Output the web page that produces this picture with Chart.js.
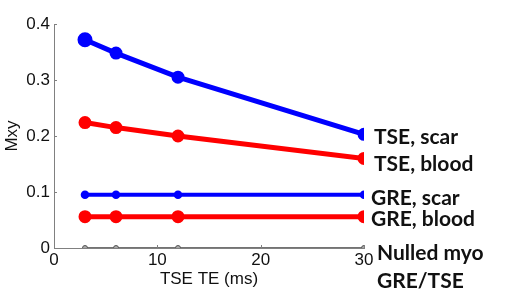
<!DOCTYPE html>
<html>
<head>
<meta charset="utf-8">
<script src="https://cdn.jsdelivr.net/npm/chart.js@4/dist/chart.umd.min.js"></script>
<style>
  html, body { margin: 0; padding: 0; background: #fff; }
  #wrap { width: 509px; height: 308px; }
</style>
</head>
<body>
<div id="wrap"><canvas id="chart" width="509" height="308"></canvas></div>
<script>
// TSE echo times (ms)
var teValues = [3, 6, 12, 30];

var tseScar = [0.372, 0.348, 0.305, 0.203];
var tseBlood = [0.224, 0.215, 0.200, 0.160];
var greScar = [0.095, 0.095, 0.095, 0.095];
var greBlood = [0.056, 0.056, 0.056, 0.056];
var nulledMyo = [0, 0, 0, 0];

var seriesNames = ["TSE, scar", "TSE, blood", "GRE, scar", "GRE, blood", ["Nulled myo", "GRE/TSE"]];

var xTicks = [0, 10, 20, 30];
var yTicks = [0, 0.1, 0.2, 0.3, 0.4];

// label offsets next to the end of each line (px)
var labelNudge = [[10, 3], [10, 6], [7, 3], [7, 3], [13, 5]];

function toPoints(values) {
  return teValues.map(function (t, i) { return { x: t, y: values[i] }; });
}

var endLabels = {
  id: "endLabels",
  afterDatasetsDraw: function (chart) {
    var ctx = chart.ctx;
    var yScale = chart.scales.y;
    var xScale = chart.scales.x;
    ctx.save();
    ctx.fillStyle = "#111";
    ctx.font = "bold 21px Lato";
    ctx.textBaseline = "middle";
    ctx.textAlign = "left";
    chart.data.datasets.forEach(function (ds, i) {
      var last = ds.data[ds.data.length - 1];
      var px = xScale.getPixelForValue(last.x) + labelNudge[i][0];
      var py = yScale.getPixelForValue(last.y) + labelNudge[i][1];
      var name = seriesNames[i];
      if (Array.isArray(name)) {
        name.forEach(function (line, k) { ctx.fillText(line, px, py + k * 28); });
      } else {
        ctx.fillText(name, px, py);
      }
    });
    ctx.restore();
  }
};

// MATLAB style ticks pointing inwards
var innerTicks = {
  id: "innerTicks",
  afterDraw: function (chart) {
    var ctx = chart.ctx;
    var area = chart.chartArea;
    ctx.save();
    ctx.strokeStyle = "#808080";
    ctx.lineWidth = 1;
    xTicks.forEach(function (v) {
      var px = Math.round(chart.scales.x.getPixelForValue(v)) + 0.5;
      ctx.beginPath();
      ctx.moveTo(px, area.bottom);
      ctx.lineTo(px, area.bottom - 3);
      ctx.stroke();
    });
    yTicks.forEach(function (v) {
      var py = Math.round(chart.scales.y.getPixelForValue(v)) + 0.5;
      ctx.beginPath();
      ctx.moveTo(area.left, py);
      ctx.lineTo(area.left + 3, py);
      ctx.stroke();
    });
    ctx.restore();
  }
};

var axisFont = { family: "Liberation Sans, Arial, sans-serif", size: 17 };

var chart = new Chart(document.getElementById("chart").getContext("2d"), {
  type: "line",
  data: {
    datasets: [
      {
        label: "TSE, scar",
        data: toPoints(tseScar),
        borderColor: "#0000ff",
        backgroundColor: "#0000ff",
        borderWidth: 5,
        pointRadius: [5, 4, 4, 4],
      },
      {
        label: "TSE, blood",
        data: toPoints(tseBlood),
        borderColor: "#ff0000",
        backgroundColor: "#ff0000",
        borderWidth: 5,
        pointRadius: 4,
      },
      {
        label: "GRE, scar",
        data: toPoints(greScar),
        borderColor: "#0000ff",
        backgroundColor: "#0000ff",
        borderWidth: 4,
        pointRadius: 2.3,
      },
      {
        label: "GRE, blood",
        data: toPoints(greBlood),
        borderColor: "#ff0000",
        backgroundColor: "#ff0000",
        borderWidth: 5,
        pointRadius: 4,
      },
      {
        label: "Nulled myo GRE/TSE",
        data: toPoints(nulledMyo),
        borderColor: "#444",
        backgroundColor: "#aaa",
        pointBorderColor: "#555",
        borderWidth: 1.5,
        pointRadius: 2.5,
        pointBorderWidth: 1,
      },
    ],
  },
  options: {
    responsive: false,
    animation: false,
    layout: { padding: { left: 0, top: 24, right: 145, bottom: 0 } },
    plugins: { legend: { display: false }, tooltip: { enabled: false } },
    elements: { line: { tension: 0 }, point: { borderWidth: 0 } },
    scales: {
      x: {
        type: "linear",
        min: 0,
        max: 30,
        afterFit: function (s) { s.height = 60; },
        afterBuildTicks: function (s) { s.ticks = xTicks.map(function (v) { return { value: v }; }); },
        border: { color: "#808080", width: 1 },
        grid: { display: false, drawTicks: false, tickLength: 0 },
        ticks: { color: "#111", padding: 2, font: axisFont },
        title: {
          display: true,
          text: "TSE TE (ms)",
          color: "#111",
          font: axisFont,
          padding: { top: 0, bottom: 18 },
        },
      },
      y: {
        min: 0,
        max: 0.4,
        afterFit: function (s) { s.width = 54; },
        afterBuildTicks: function (s) { s.ticks = yTicks.map(function (v) { return { value: v }; }); },
        border: { color: "#808080", width: 1 },
        grid: { display: false, drawTicks: false, tickLength: 0 },
        ticks: {
          color: "#111",
          padding: 4,
          font: axisFont,
          callback: function (v) { return String(Math.round(v * 10) / 10); },
        },
        title: {
          display: true,
          text: "Mxy",
          color: "#111",
          font: axisFont,
          padding: { top: 2, bottom: 0 },
        },
      },
    },
  },
  plugins: [endLabels, innerTicks],
});
</script>
</body>
</html>
